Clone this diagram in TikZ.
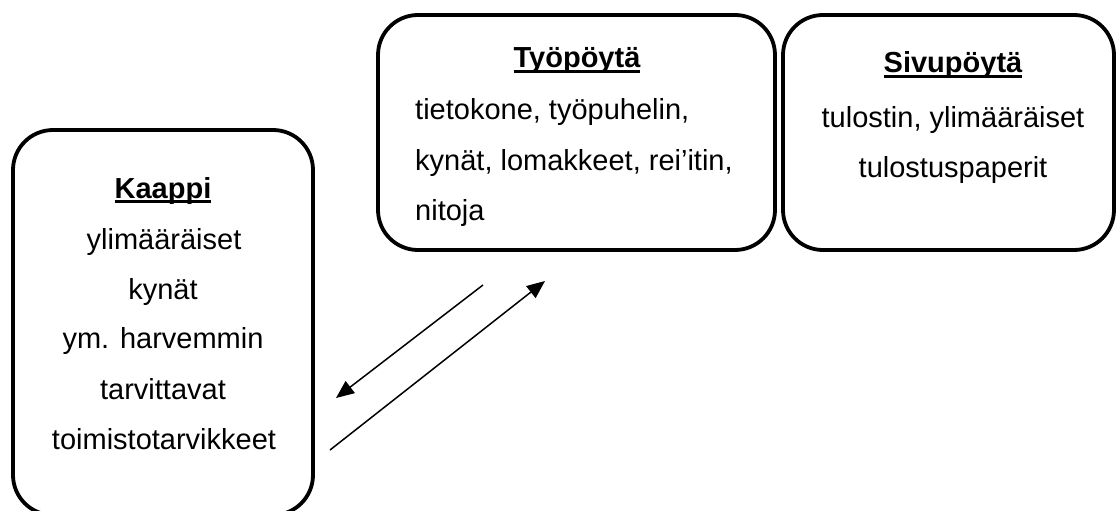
\documentclass[tikz,border=0pt]{standalone}
\usepackage{fontspec}
\setmainfont{Liberation Sans}
\usetikzlibrary{arrows.meta}
\newcommand{\myul}[1]{\setbox0\hbox{#1}\rlap{\rule[-5pt]{\wd0}{2.8pt}}\box0}
\tikzset{
  boxshape/.style={draw, line width=3.8pt, rounded corners=40pt, inner sep=0pt},
  txt/.style={inner sep=0pt, font=\fontsize{29}{35}\selectfont},
  ctr/.style={txt, anchor=base},
  lft/.style={txt, anchor=base west},
  ttl/.style={txt, anchor=base, font=\fontsize{29}{35}\selectfont\bfseries},
  arr/.style={line width=1.5pt, -{Triangle[length=18pt,width=15pt]}}
}
\begin{document}
\begin{tikzpicture}[x=1pt,y=-1pt]
\useasboundingbox (0,0) rectangle (1117,511);
\clip (0,0) rectangle (1117,511);
% boxes
\draw[boxshape] (13,130) rectangle (313,515);
\node[inner sep=0pt, minimum size=0pt] (kaappi) at (163,320) {};
\draw[boxshape] (378,15) rectangle (775,250);
\node[inner sep=0pt, minimum size=0pt] (tyopoyta) at (576,132) {};
\draw[boxshape] (783,15) rectangle (1114,250);
\node[inner sep=0pt, minimum size=0pt] (sivupoyta) at (949,132) {};
% Kaappi text
\node[ttl] (k0) at (163,198) {\myul{Kaappi}};
\node[ctr] (k1) at (164,249) {ylimääräiset};
\node[ctr] (k2) at (163,299) {kynät};
\node[ctr] (k3) at (163,348) {ym. harvemmin};
\node[ctr] (k4) at (163,399) {tarvittavat};
\node[ctr] (k5) at (164,449) {toimistotarvikkeet};
% Tyopoyta text
\node[ttl] (t0) at (577,68) {\myul{Työpöytä}};
\node[lft] (t1) at (415,119) {tietokone, työpuhelin,};
\node[lft] (t2) at (415,170) {kynät, lomakkeet, rei’itin,};
\node[lft] (t3) at (415,220) {nitoja};
% Sivupoyta text
\node[ttl] (s0) at (953,73) {\myul{Sivupöytä}};
\node[ctr] (s1) at (953,127) {tulostin, ylimääräiset};
\node[ctr] (s2) at (953,177) {tulostuspaperit};
% arrows
\coordinate (a1s) at (483,285);
\coordinate (a1e) at (336,398);
\coordinate (a2s) at (330,450);
\coordinate (a2e) at (545,281);
\draw[arr] (a1s) -- (a1e);
\draw[arr] (a2s) -- (a2e);
\end{tikzpicture}
\end{document}
